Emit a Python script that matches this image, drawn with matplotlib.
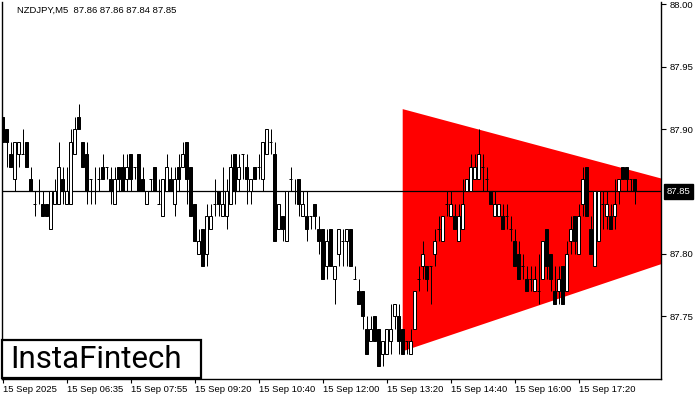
import numpy as np
import matplotlib
matplotlib.use('Agg')
import matplotlib.pyplot as plt
from matplotlib.patches import Polygon, Rectangle

# NZDJPY M5 bars (2 decimals)
opens = [87.91, 87.90, 87.88, 87.86, 87.88, 87.88, 87.89, 87.86, 87.84, 87.85,
         87.84, 87.84, 87.82, 87.84, 87.84, 87.86, 87.84, 87.84, 87.88, 87.91,
         87.89, 87.88, 87.86, 87.85, 87.86, 87.87, 87.87, 87.86, 87.84, 87.87,
         87.87, 87.86, 87.88, 87.87, 87.88, 87.86, 87.84, 87.86, 87.87, 87.84,
         87.83, 87.85, 87.86, 87.84, 87.87, 87.87, 87.89, 87.87, 87.84, 87.80,
         87.82, 87.80, 87.82, 87.84, 87.85, 87.83, 87.83, 87.84, 87.88, 87.86,
         87.88, 87.87, 87.85, 87.87, 87.87, 87.86, 87.88, 87.89, 87.88, 87.82,
         87.83, 87.81, 87.86, 87.85, 87.86, 87.83, 87.83, 87.83, 87.84, 87.82,
         87.82, 87.79, 87.82, 87.78, 87.80, 87.81, 87.81, 87.82, 87.78, 87.77,
         87.77, 87.74, 87.73, 87.75, 87.74, 87.72, 87.72, 87.73, 87.75, 87.75,
         87.74, 87.73, 87.72, 87.74, 87.78, 87.79, 87.79, 87.79, 87.80, 87.82,
         87.81, 87.84, 87.83, 87.83, 87.81, 87.82, 87.85, 87.85, 87.86, 87.86,
         87.87, 87.86, 87.85, 87.83, 87.83, 87.83, 87.83, 87.82, 87.81, 87.80,
         87.79, 87.78, 87.78, 87.77, 87.77, 87.78, 87.82, 87.80, 87.77, 87.77,
         87.79, 87.77, 87.81, 87.83, 87.80, 87.84, 87.87, 87.82, 87.79, 87.81,
         87.84, 87.83, 87.83, 87.83, 87.85, 87.87, 87.87, 87.86, 87.86]
highs = [87.91, 87.90, 87.89, 87.89, 87.89, 87.90, 87.89, 87.87, 87.85, 87.86,
         87.85, 87.84, 87.85, 87.86, 87.89, 87.87, 87.87, 87.90, 87.91, 87.92,
         87.89, 87.89, 87.86, 87.87, 87.87, 87.88, 87.87, 87.87, 87.87, 87.87,
         87.88, 87.88, 87.88, 87.87, 87.88, 87.87, 87.85, 87.86, 87.87, 87.86,
         87.86, 87.88, 87.87, 87.87, 87.88, 87.89, 87.89, 87.87, 87.84, 87.82,
         87.82, 87.84, 87.84, 87.86, 87.85, 87.87, 87.86, 87.88, 87.88, 87.88,
         87.88, 87.88, 87.86, 87.87, 87.88, 87.89, 87.90, 87.90, 87.89, 87.84,
         87.83, 87.85, 87.87, 87.86, 87.86, 87.85, 87.85, 87.83, 87.84, 87.83,
         87.82, 87.82, 87.82, 87.79, 87.82, 87.82, 87.82, 87.82, 87.79, 87.78,
         87.77, 87.75, 87.75, 87.75, 87.74, 87.73, 87.74, 87.76, 87.76, 87.76,
         87.74, 87.73, 87.74, 87.77, 87.79, 87.81, 87.79, 87.79, 87.82, 87.83,
         87.83, 87.85, 87.85, 87.84, 87.84, 87.86, 87.86, 87.88, 87.88, 87.90,
         87.88, 87.87, 87.85, 87.85, 87.84, 87.84, 87.84, 87.83, 87.82, 87.81,
         87.80, 87.79, 87.79, 87.79, 87.80, 87.81, 87.82, 87.80, 87.79, 87.79,
         87.79, 87.81, 87.83, 87.83, 87.84, 87.87, 87.87, 87.83, 87.85, 87.85,
         87.85, 87.85, 87.84, 87.86, 87.86, 87.87, 87.87, 87.86, 87.86]
lows = [87.89, 87.87, 87.87, 87.85, 87.87, 87.88, 87.87, 87.85, 87.83, 87.84,
        87.83, 87.83, 87.82, 87.84, 87.84, 87.84, 87.84, 87.84, 87.88, 87.90,
        87.87, 87.84, 87.84, 87.84, 87.85, 87.86, 87.86, 87.84, 87.84, 87.85,
        87.85, 87.85, 87.85, 87.86, 87.85, 87.85, 87.84, 87.85, 87.85, 87.84,
        87.83, 87.85, 87.85, 87.83, 87.85, 87.87, 87.84, 87.83, 87.81, 87.80,
        87.79, 87.79, 87.82, 87.83, 87.83, 87.83, 87.82, 87.84, 87.84, 87.85,
        87.86, 87.84, 87.84, 87.86, 87.86, 87.85, 87.88, 87.88, 87.81, 87.82,
        87.81, 87.81, 87.85, 87.84, 87.83, 87.83, 87.81, 87.82, 87.82, 87.80,
        87.78, 87.78, 87.79, 87.76, 87.79, 87.79, 87.79, 87.79, 87.78, 87.76,
        87.74, 87.72, 87.73, 87.73, 87.71, 87.71, 87.72, 87.72, 87.74, 87.72,
        87.72, 87.72, 87.72, 87.74, 87.77, 87.78, 87.77, 87.76, 87.79, 87.81,
        87.81, 87.83, 87.83, 87.82, 87.81, 87.82, 87.85, 87.85, 87.86, 87.86,
        87.85, 87.85, 87.84, 87.83, 87.83, 87.82, 87.82, 87.81, 87.79, 87.78,
        87.78, 87.77, 87.77, 87.77, 87.76, 87.78, 87.78, 87.77, 87.76, 87.76,
        87.76, 87.77, 87.80, 87.80, 87.80, 87.83, 87.83, 87.80, 87.79, 87.81,
        87.82, 87.82, 87.82, 87.82, 87.84, 87.86, 87.85, 87.85, 87.84]
closes = [87.89, 87.89, 87.87, 87.89, 87.89, 87.88, 87.87, 87.85, 87.84, 87.85,
          87.83, 87.83, 87.85, 87.85, 87.87, 87.85, 87.85, 87.89, 87.90, 87.90,
          87.87, 87.85, 87.86, 87.85, 87.86, 87.86, 87.87, 87.85, 87.86, 87.86,
          87.85, 87.87, 87.86, 87.87, 87.85, 87.85, 87.85, 87.86, 87.85, 87.84,
          87.86, 87.87, 87.85, 87.86, 87.86, 87.88, 87.86, 87.83, 87.81, 87.81,
          87.79, 87.83, 87.83, 87.84, 87.84, 87.84, 87.85, 87.87, 87.85, 87.87,
          87.88, 87.86, 87.86, 87.86, 87.87, 87.89, 87.90, 87.89, 87.81, 87.84,
          87.82, 87.85, 87.86, 87.85, 87.84, 87.84, 87.82, 87.83, 87.83, 87.81,
          87.78, 87.81, 87.79, 87.79, 87.82, 87.81, 87.82, 87.79, 87.78, 87.76,
          87.75, 87.72, 87.74, 87.73, 87.71, 87.73, 87.74, 87.74, 87.76, 87.73,
          87.72, 87.73, 87.73, 87.77, 87.78, 87.80, 87.78, 87.79, 87.81, 87.82,
          87.83, 87.84, 87.84, 87.82, 87.83, 87.84, 87.86, 87.87, 87.87, 87.88,
          87.87, 87.86, 87.84, 87.84, 87.84, 87.82, 87.83, 87.82, 87.79, 87.78,
          87.79, 87.77, 87.78, 87.78, 87.77, 87.81, 87.79, 87.78, 87.76, 87.78,
          87.76, 87.80, 87.82, 87.81, 87.83, 87.86, 87.83, 87.80, 87.85, 87.85,
          87.84, 87.84, 87.82, 87.84, 87.86, 87.86, 87.86, 87.86, 87.85]

time_labels = ['15 Sep 2025', '15 Sep 06:35', '15 Sep 07:55', '15 Sep 09:20',
               '15 Sep 10:40', '15 Sep 12:00', '15 Sep 13:20', '15 Sep 14:40',
               '15 Sep 16:00', '15 Sep 17:20']
label_bars = [0, 16, 32, 48, 64, 80, 96, 112, 128, 144]
price_ticks = [87.75, 87.80, 87.90, 87.95, 88.00]
last_price = 87.85

# symmetrical triangle: start bar, upper/lower price at start, apex bar/price
tri_start_bar = 100
tri_upper = 87.916
tri_lower = 87.722
tri_apex_bar = 200
tri_apex_price = 87.830

W, H = 700, 400
tick_font = dict(family='Liberation Sans', size=6.8)

fig = plt.figure(figsize=(7, 4), dpi=100)
fig.patch.set_facecolor('white')
ax = fig.add_axes([2 / W, 21 / H, 659 / W, 377 / H])
ax.set_xlim(-0.175, 164.575)
ax.set_ylim(87.6998, 88.0018)

# triangle pattern
tri = Polygon([(tri_start_bar, tri_upper), (tri_start_bar, tri_lower),
               (tri_apex_bar, tri_apex_price)], closed=True,
              facecolor='#ff0000', edgecolor='none', zorder=1)
ax.add_patch(tri)

# current price line
ax.axhline(last_price, color='black', lw=0.9, zorder=2)

# candles
o = np.array(opens); h = np.array(highs); l = np.array(lows); c = np.array(closes)
x = np.arange(len(o))
lw = 0.72
ax.vlines(x, l, h, color='black', lw=lw, zorder=3)
body_w = 0.62
up = c > o
down = c < o
doji = c == o
ax.bar(x[up], (c - o)[up], bottom=o[up], width=body_w, facecolor='white',
       edgecolor='black', linewidth=lw, zorder=4)
ax.bar(x[down], (o - c)[down], bottom=c[down], width=body_w, facecolor='black',
       edgecolor='black', linewidth=lw, zorder=4)
ax.hlines(o[doji], x[doji] - body_w / 2, x[doji] + body_w / 2, color='black',
          lw=lw, zorder=4)

# axes styling
ax.spines['top'].set_visible(False)
for s in ['left', 'right', 'bottom']:
    ax.spines[s].set_linewidth(1.0)
    ax.spines[s].set_color('black')

ax.yaxis.tick_right()
ax.set_yticks(price_ticks)
ax.set_yticklabels([f'{p:.2f}' for p in price_ticks], fontdict=tick_font)
ax.tick_params(axis='y', direction='out', length=3.5, width=0.8, pad=2.5,
               colors='black')
ax.text(1.0 + 5.5 / 659, last_price, f'{last_price:.2f}',
        transform=ax.get_yaxis_transform(), fontdict=tick_font,
        ha='left', va='center', color='white', zorder=10,
        bbox=dict(boxstyle='square,pad=0.3', facecolor='black', edgecolor='black'),
        clip_on=False)

ax.set_xticks(label_bars)
ax.set_xticklabels(time_labels, fontdict=tick_font)
ax.tick_params(axis='x', direction='out', length=3, width=0.8, pad=1.5,
               colors='black')
for t in ax.get_xticklabels():
    t.set_ha('left')

# header text
fig.text(17 / W, 1 - 10 / H, 'NZDJPY,M5  87.86 87.86 87.84 87.85', fontdict=tick_font,
         color='black', ha='left', va='center',
         bbox=dict(boxstyle='square,pad=0.1', facecolor='white', edgecolor='none'))

# logo box
logo = Rectangle((2 / W, 1 - 378 / H), 199 / W, 38 / H, transform=fig.transFigure,
                 facecolor='white', edgecolor='black', linewidth=1.6, zorder=20)
fig.patches.append(logo)
fig.text(96 / W, 1 - 359 / H, 'InstaFintech', fontsize=22.5, family='Roboto',
         color='black', ha='center', va='center', zorder=21)

fig.savefig('out.png', dpi=100)
